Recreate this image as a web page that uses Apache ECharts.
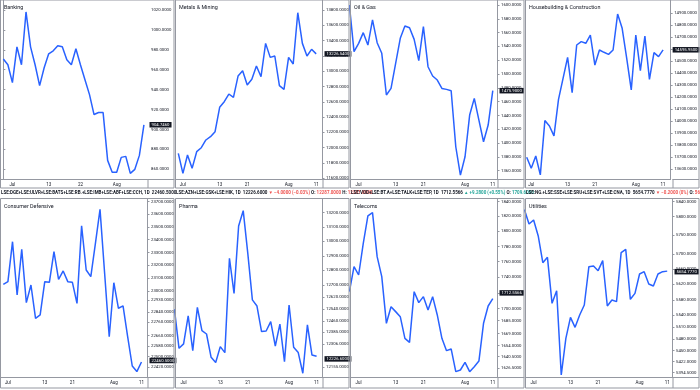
<!DOCTYPE html>
<html><head><meta charset="utf-8">
<script src="https://cdn.jsdelivr.net/npm/echarts@6/dist/echarts.min.js"></script>
<style>html,body{margin:0;padding:0;background:#fff}#c{width:700px;height:390px}</style>
</head><body><div id="c"></div>
<script>
// ---- data ----
const dates = ['2020-06-29','2020-06-30','2020-07-01','2020-07-02','2020-07-03','2020-07-06','2020-07-07','2020-07-08','2020-07-09','2020-07-10','2020-07-13','2020-07-14','2020-07-15','2020-07-16','2020-07-17','2020-07-20','2020-07-21','2020-07-22','2020-07-23','2020-07-24','2020-07-27','2020-07-28','2020-07-29','2020-07-30','2020-07-31','2020-08-03','2020-08-04','2020-08-05','2020-08-06','2020-08-07','2020-08-10','2020-08-11'];
const xTickDates = ['2020-07-01','2020-07-13','2020-07-21','2020-08-03','2020-08-11'];
const xTickLabels = ['Jul','13','21','Aug','11'];
const bankingXTickDates = ['2020-07-01','2020-07-13','2020-07-22','2020-08-03'];
const bankingXTickLabels = ['Jul','13','22','Aug'];

const titles = ['Banking','Metals & Mining','Oil & Gas','Housebuilding & Construction','Consumer Defensive','Pharma','Telecoms','Utilities'];

const banking = [970.7,965,947,983,965,1018,983,965,944,962,976,979,984,983,970,965,981,965,950,935,915,917,917,869,857,857,872,873,856,860,874,904.746];
const metals = [null,11926,11665,11905,11730,11948,12000,12101,12144,12210,12528,12602,12702,12658,12937,13007,12820,12894,13068,12928,13364,13181,13199,12811,12763,13181,13094,13765,13364,13199,13286,13226.54];
const oilGas = [1600,1532.4,1544.4,1559.9,1542,1578.3,1545.4,1530,1469.6,1479.2,1515.5,1551.7,1569.6,1567.1,1550.2,1519.3,1568.6,1510.6,1497.1,1491.3,1479.2,1477.8,1475.8,1394.7,1353.6,1380.2,1440.6,1464.7,1433.3,1401.9,1426.1,1475.9];
const housebuilding = [null,13700,13608,13711,13553,14006,13961,13878,14183,14358,14533,14239,14636,14664,14650,14719,14469,14594,14575,14558,14594,14894,14775,14525,14261,14719,14422,14711,14350,14572,14539,14595.95];
const consumerDefensive = [null,23052,23073,23384,22970,23324,22911,23047,22791,22817,23073,23068,23306,23091,23156,23073,23068,22906,23508,23163,23112,23371,23639,23138,22652,23065,22868,22886,22652,22430,22388,22460.5];
const pharma = [12538,12279,12308,12493,12264,12550,12395,12373,12220,12186,12290,12251,12883,12644,13107,13214,12917,12600,12559,12389,12393,12455,12294,12439,12192,12566,12286,12251,12117,12433,12235,12226.6];
const telecoms = [1721.4,1753.6,1742.8,1784.1,1820.6,1825.1,1766.6,1740.7,1681.6,1702.4,1696.2,1689.9,1663.0,1658.1,1721.4,1707.5,1715.1,1698.2,1715.1,1692.0,1663.0,1647.9,1650.0,1622.5,1624.5,1633.7,1622.5,1628.5,1635.3,1681.6,1703.3,1712.5566];
const utilities = [5818.7,5779.8,5790.5,5747.7,5677,5691.1,5570.9,5603.7,5388.7,5481.1,5534.8,5509.2,5540.8,5566.6,5666.5,5668.3,5656,5682.3,5564,5579.5,5575.4,5703.4,5712.2,5581.3,5596.8,5647.2,5653.4,5621.1,5615.9,5647.2,5653.4,5654.777];

const bankingTicks = [860,880,900,920,940,960,980,1000,1020];
const metalsTicks = [11600,11800,12000,12200,12400,12600,12800,13000,13200,13400,13600,13800];
const oilGasTicks = [1360,1380,1400,1420,1440,1460,1480,1500,1520,1540,1560,1580,1600];
const housebuildingTicks = [13600,13700,13800,13900,14000,14100,14200,14300,14400,14500,14600,14700,14800,14900];
const consumerDefensiveTicks = [22420,22500,22580,22660,22760,22840,22930,23000,23100,23200,23300,23400,23500,23600,23700];
const pharmaTicks = [12155,12306,12385,12460,12540,12620,12700,12800,12900,13000,13100,13200];
const telecomsTicks = [1626.5,1640.5,1654,1669,1685,1700,1720,1740,1760,1780,1800,1820,1840];
const utilitiesTicks = [5394.5,5422,5450,5480,5510,5540,5580,5620,5660,5700,5750,5800,5840];

const legendSymbols = ['LSE:DGE+LSE:ULVR+LSE:BATS+LSE:RB.+LSE:IMB+LSE:ABF+LSE:CCH, 1D','LSE:AZN+LSE:GSK+LSE:HIK, 1D','LSE:VOD+LSE:BT.A+LSE:TALK+LSE:TEP, 1D','LSE:NG.+LSE:SSE+LSE:SRU+LSE:SVT+LSE:CNA, 1D'];

// ---- layout / style ----
const FONT = 'Roboto, "Liberation Sans", sans-serif';
const LINE = '#2962ff', TXT = '#131722', AXIS = '#9598a1', BORDER = '#9598a1';
const RED = '#ef5350', GREEN = '#26a69a';
const colX = [0, 175, 350, 525];
const rowTop = [0, 199];
const rowH = [179, 178];
const panelBottom = [188, 388];
const PLOT_W = 147.5;

const panels = [
  {title:titles[0], data:banking, yTicks:bankingTicks, xd:bankingXTickDates, xl:bankingXTickLabels, xMin:-0.737, xMax:31.79, yMin:850.3, yMax:1030, log:false},
  {title:titles[1], data:metals, yTicks:metalsTicks, xd:xTickDates, xl:xTickLabels, xMin:0.28, xMax:32.38, yMin:11591, yMax:13931, log:false},
  {title:titles[2], data:oilGas, yTicks:oilGasTicks, xd:xTickDates, xl:xTickLabels, xMin:0.132, xMax:32.02, yMin:1348, yMax:1607.2, log:false},
  {title:titles[3], data:housebuilding, yTicks:housebuildingTicks, xd:xTickDates, xl:xTickLabels, xMin:0.63, xMax:32.66, yMin:13519, yMax:15011, log:false},
  {title:titles[4], data:consumerDefensive, yTicks:consumerDefensiveTicks, xd:xTickDates, xl:xTickLabels, xMin:0.28, xMax:32.31, yMin:22347.5, yMax:23721, log:true},
  {title:titles[5], data:pharma, yTicks:pharmaTicks, xd:xTickDates, xl:xTickLabels, xMin:0.125, xMax:32.29, yMin:12092.6, yMax:13296.6, log:true},
  {title:titles[6], data:telecoms, yTicks:telecomsTicks, xd:xTickDates, xl:xTickLabels, xMin:0.132, xMax:32.02, yMin:1616.1, yMax:1843.6, log:true},
  {title:titles[7], data:utilities, yTicks:utilitiesTicks, xd:xTickDates, xl:xTickLabels, xMin:0.129, xMax:32.15, yMin:5383.7, yMax:5847.2, log:true}
];

const grid = [], xAxis = [], yAxis = [], series = [], title = [], graphic = [];

panels.forEach((p, i) => {
  const c = i % 4, r = Math.floor(i / 4);
  const tf = p.log ? Math.log : (v => v);
  const inv = p.log ? Math.exp : (v => v);
  grid.push({left: colX[c], top: rowTop[r], width: PLOT_W, height: rowH[r]});
  const xt = p.xd.map(d => dates.indexOf(d));
  xAxis.push({
    type: 'value', gridIndex: i, min: p.xMin, max: p.xMax,
    axisLine: {show: true, lineStyle: {color: AXIS, width: 1}},
    axisTick: {show: false}, splitLine: {show: false},
    axisLabel: {customValues: xt, formatter: v => { const k = xt.indexOf(Math.round(v)); return k >= 0 ? p.xl[k] : ''; },
      fontSize: 4.5, color: TXT, margin: 3, fontFamily: FONT}
  });
  const yt = p.yTicks.map(tf);
  yAxis.push({
    type: 'value', gridIndex: i, position: 'right', min: tf(p.yMin), max: tf(p.yMax),
    axisLine: {show: true, lineStyle: {color: AXIS, width: 1}},
    axisTick: {show: true, length: 2, customValues: yt, lineStyle: {color: AXIS}},
    splitLine: {show: false},
    axisLabel: {customValues: yt, formatter: v => inv(v).toFixed(4), fontSize: 4.3, color: TXT, margin: 3.5, fontFamily: FONT}
  });
  const last = p.data[p.data.length - 1];
  series.push({
    type: 'line', xAxisIndex: i, yAxisIndex: i, animation: false, silent: true, clip: true,
    showSymbol: false, symbol: 'none',
    lineStyle: {color: LINE, width: 1.5}, itemStyle: {color: LINE},
    data: p.data.map((v, k) => v == null ? null : [k, tf(v)]).filter(d => d),
    markLine: {
      silent: true, symbol: 'none', animation: false,
      lineStyle: {color: 'rgba(0,0,0,0)', width: 0},
      label: {show: true, position: 'end', distance: 2, formatter: last.toFixed(4),
        backgroundColor: '#131722', color: '#ffffff', fontSize: 4.3, padding: [1, 2, 0.5, 2], fontFamily: FONT},
      data: [{yAxis: tf(last)}]
    }
  });
  title.push({text: p.title, left: colX[c] + 4, top: rowTop[r] + 5, padding: 0,
    textStyle: {fontSize: 5.4, color: TXT, fontWeight: 'normal', fontFamily: FONT}});
  graphic.push({type: 'rect', silent: true, z: 100,
    shape: {x: colX[c] + 0.5, y: rowTop[r] - (r ? 0.5 : 0), width: 173.5, height: panelBottom[r] - rowTop[r] + (r ? 0.5 : 0)},
    style: {fill: null, stroke: BORDER, lineWidth: 1}});
  graphic.push({type: 'line', silent: true, z: 100,
    shape: {x1: colX[c] + PLOT_W + 0.5, y1: rowTop[r] + rowH[r], x2: colX[c] + PLOT_W + 0.5, y2: panelBottom[r]},
    style: {stroke: AXIS, lineWidth: 1}});
  graphic.push({type: 'line', silent: true, z: 100,
    shape: {x1: colX[c] + PLOT_W, y1: rowTop[r] + rowH[r] + 0.5, x2: colX[c] + 174, y2: rowTop[r] + rowH[r] + 0.5},
    style: {stroke: AXIS, lineWidth: 1}});
});

// legend lines above the bottom-row panels (each box has a white background so the next one hides the overflow)
const lastStr = a => a[a.length - 1].toFixed(4);
const infoTexts = [
  '{n|' + legendSymbols[0] + '}  {n|' + lastStr(consumerDefensive) + '}',
  '{n|' + legendSymbols[1] + '}  {n|' + lastStr(pharma) + '} {dn|▼ −4.0000 (−0.03%)} {n|O:} {dn|12287.0000} {n|H:} {dn|12287.0000}',
  '{n|' + legendSymbols[2] + '}  {n|' + lastStr(telecoms) + '} {up|▲ +9.2800 (+0.55%)} {n|O:} {up|1709.6000}',
  '{n|' + legendSymbols[3] + '}  {n|' + lastStr(utilities) + '} {dn|▼ −0.2000 (0%)} {n|O:} {dn|5674.9770}'
];
infoTexts.forEach((t, c) => {
  title.push({text: t, left: colX[c] + 1, top: 190.5, padding: [0, 0, 0, 0], backgroundColor: '#ffffff',
    textStyle: {fontSize: 4.5, color: TXT, fontFamily: FONT,
      rich: {n: {fontSize: 4.5, color: TXT, fontFamily: FONT}, dn: {fontSize: 4.5, color: RED, fontFamily: FONT}, up: {fontSize: 4.5, color: GREEN, fontFamily: FONT}}}});
});

const chart = echarts.init(document.getElementById('c'));
chart.setOption({animation: false, backgroundColor: '#ffffff', title, grid, xAxis, yAxis, series, graphic});
</script>
</body></html>
